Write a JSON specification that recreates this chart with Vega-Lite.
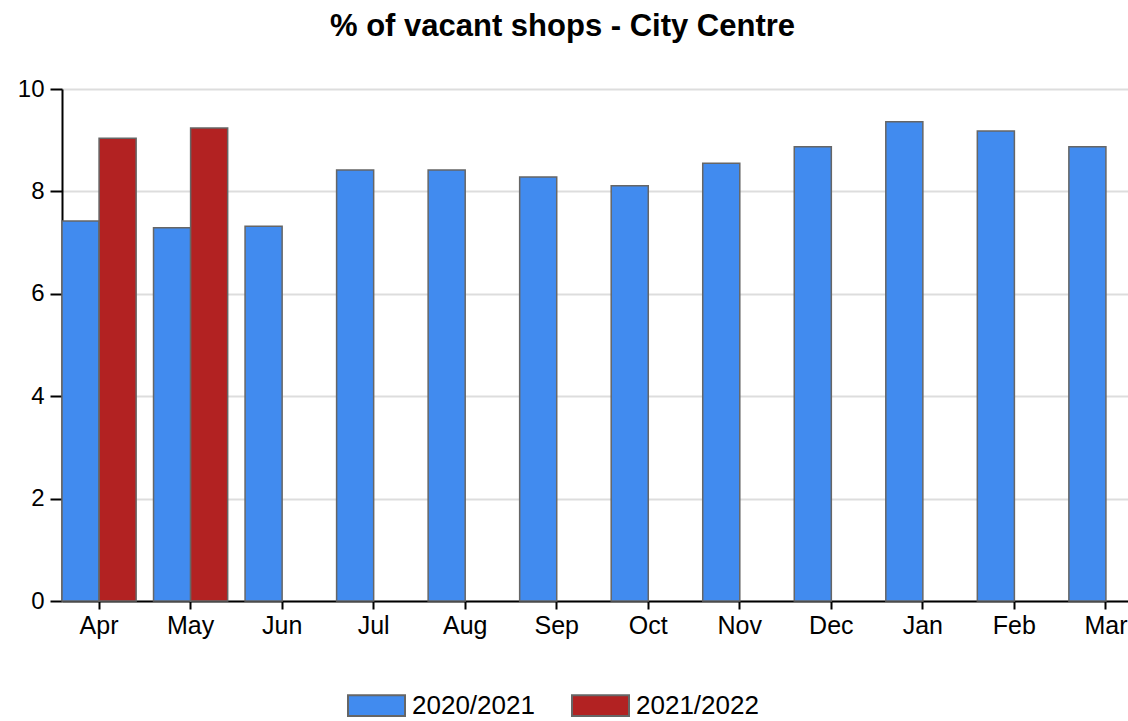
{
  "$schema": "https://vega.github.io/schema/vega-lite/v6.json",
  "autosize": {"type": "none"},
  "padding": {"left": 62, "top": 89, "right": 0, "bottom": 120},
  "width": 1081,
  "height": 512,
  "background": "white",
  "title": {
    "text": "% of vacant shops - City Centre",
    "font": "Liberation Sans",
    "fontSize": 31,
    "fontWeight": "bold",
    "color": "#000000",
    "anchor": "middle",
    "dx": -40,
    "offset": 34
  },
  "data": {
    "values": [
      {"month": "Apr", "year": "2020/2021", "value": 7.42},
      {"month": "Apr", "year": "2021/2022", "value": 9.04},
      {"month": "May", "year": "2020/2021", "value": 7.29},
      {"month": "May", "year": "2021/2022", "value": 9.24},
      {"month": "Jun", "year": "2020/2021", "value": 7.32},
      {"month": "Jul", "year": "2020/2021", "value": 8.42},
      {"month": "Aug", "year": "2020/2021", "value": 8.42},
      {"month": "Sep", "year": "2020/2021", "value": 8.28},
      {"month": "Oct", "year": "2020/2021", "value": 8.11},
      {"month": "Nov", "year": "2020/2021", "value": 8.55},
      {"month": "Dec", "year": "2020/2021", "value": 8.87},
      {"month": "Jan", "year": "2020/2021", "value": 9.36},
      {"month": "Feb", "year": "2020/2021", "value": 9.18},
      {"month": "Mar", "year": "2020/2021", "value": 8.87}
    ]
  },
  "mark": {"type": "bar", "stroke": "#666666", "strokeWidth": 1.5},
  "encoding": {
    "x": {
      "field": "month",
      "type": "nominal",
      "sort": ["Apr", "May", "Jun", "Jul", "Aug", "Sep", "Oct", "Nov", "Dec", "Jan", "Feb", "Mar"],
      "scale": {"paddingInner": 0.19, "paddingOuter": 0},
      "axis": {
        "title": null,
        "labelAngle": 0,
        "labelFont": "Liberation Sans",
        "labelFontSize": 25,
        "labelColor": "#000000",
        "labelPadding": 4,
        "tickColor": "#000000",
        "tickSize": 8,
        "tickWidth": 2,
        "domainColor": "#000000",
        "domainWidth": 2,
        "grid": false
      }
    },
    "xOffset": {
      "field": "year",
      "type": "nominal",
      "scale": {"domain": ["2020/2021", "2021/2022"], "paddingInner": 0, "paddingOuter": 0}
    },
    "y": {
      "field": "value",
      "type": "quantitative",
      "scale": {"domain": [0, 10], "nice": false},
      "axis": {
        "title": null,
        "values": [0, 2, 4, 6, 8, 10],
        "labelFont": "Liberation Sans",
        "labelFontSize": 24,
        "labelColor": "#000000",
        "labelPadding": 6,
        "tickColor": "#000000",
        "tickSize": 12,
        "tickWidth": 2,
        "domainColor": "#000000",
        "domainWidth": 2,
        "gridColor": "#dddddd",
        "gridWidth": 2
      }
    },
    "color": {
      "field": "year",
      "type": "nominal",
      "scale": {"domain": ["2020/2021", "2021/2022"], "range": ["#418bef", "#b22222"]},
      "legend": {
        "title": null,
        "orient": "none",
        "direction": "horizontal",
        "legendX": 285,
        "legendY": 587,
        "symbolType": "M-1,-0.36H1V0.36H-1Z",
        "symbolSize": 3249,
        "symbolStrokeColor": "#666666",
        "symbolStrokeWidth": 2,
        "labelFont": "Liberation Sans",
        "labelFontSize": 26,
        "labelColor": "#000000",
        "labelOffset": 6,
        "columnPadding": 33,
        "symbolOpacity": 1
      }
    }
  },
  "config": {"view": {"stroke": null}}
}
